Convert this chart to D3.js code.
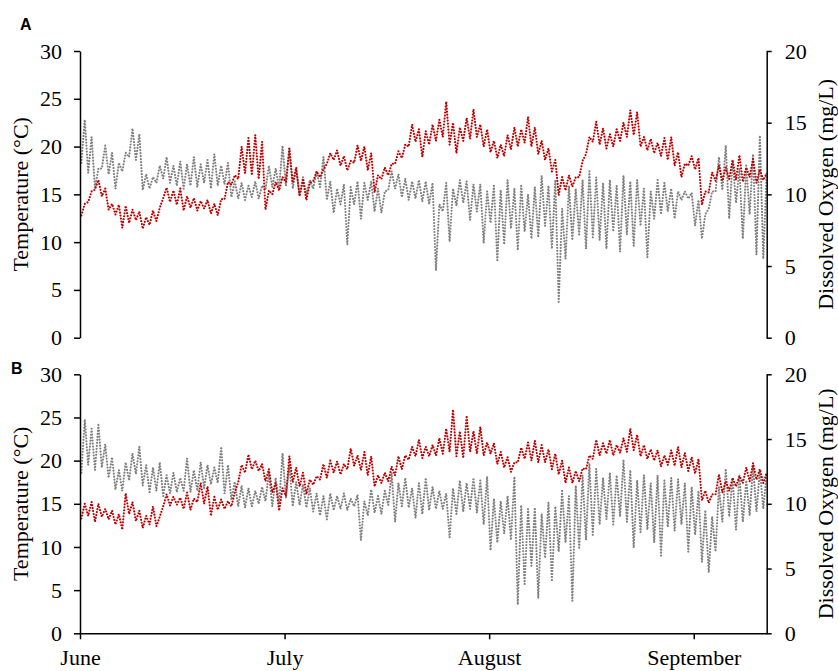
<!DOCTYPE html>
<html>
<head>
<meta charset="utf-8">
<script src="https://cdn.jsdelivr.net/npm/d3@7"></script>
<style>
  html, body { margin: 0; padding: 0; background: #fff; }
  svg { display: block; }
</style>
</head>
<body>
<svg id="chart" width="838" height="671"></svg>
<script>
// ---- Data (two readings per day: night low, afternoon high) ----
const months = ["June", "July", "August", "September"];
const monthDays = [0, 30, 60, 90];
const tempTicks = [0, 5, 10, 15, 20, 25, 30];
const doTicks = [0, 5, 10, 15, 20];
const panelLabels = ["A", "B"];

// Panel A: water temperature (°C)
const tempA = [
12.8,14.0, 14.2,15.3, 15.5,16.5, 14.8,15.6, 13.4,14.0, 12.9,13.9, 11.5,13.8, 12.0,13.4, 12.3,13.2, 11.4,12.6,
11.8,13.3, 12.2,13.6, 14.6,15.7, 14.2,15.4, 13.9,15.6, 13.3,14.8, 13.6,14.6, 13.3,14.3, 13.5,14.4, 13.0,14.0,
12.8,14.5, 14.5,16.3, 16.0,17.0, 16.6,20.0, 17.2,20.9, 17.0,21.2, 16.6,20.5, 13.4,15.4, 15.0,16.3, 15.4,16.8,
16.3,19.8, 16.2,17.8, 14.8,16.5, 14.4,16.2, 16.4,17.4, 16.8,17.6, 18.2,19.3, 18.6,19.6, 18.0,19.0, 17.5,18.5,
18.3,20.1, 18.5,20.0, 17.5,19.3, 15.2,17.0, 16.6,17.8, 17.0,18.2, 18.2,19.5, 18.8,20.2, 20.0,22.3, 20.5,21.8,
18.9,21.6, 20.2,22.3, 20.6,22.8, 21.0,24.7, 20.2,22.5, 19.3,22.0, 20.6,23.0, 20.8,23.9, 21.0,22.3, 20.0,21.8,
19.4,20.6, 18.8,20.2, 19.0,21.2, 19.7,22.0, 20.0,21.8, 20.4,23.1, 20.0,22.0, 19.2,20.6, 18.6,19.8, 17.4,18.6,
14.9,16.8, 15.4,17.0, 15.8,16.8, 16.8,18.5, 19.2,21.0, 20.5,22.6, 20.2,21.9, 19.8,21.3, 20.0,21.8, 20.6,22.5,
21.0,23.8, 21.2,23.6, 20.0,21.0, 19.6,20.8, 19.3,20.4, 19.0,20.9, 18.6,21.0, 18.0,19.4, 16.8,18.2, 18.0,19.0,
17.6,18.8, 13.9,15.3, 15.2,17.3, 16.4,18.0, 16.4,17.8, 16.6,18.6, 16.5,19.1, 16.3,17.8, 16.8,18.7, 16.2,17.6,
16.5,17.2
];

// Panel A: dissolved oxygen (mg/L)
const doA = [
12.2,15.2, 11.5,14.0, 10.4,11.8, 11.8,13.4, 11.4,12.9, 10.4,12.2, 11.6,12.9, 12.6,14.6, 12.4,14.2, 10.3,11.4,
10.4,11.2, 10.8,12.0, 11.1,12.6, 10.8,12.0, 10.6,12.3, 10.4,12.1, 10.6,12.6, 10.5,12.1, 10.8,12.4, 10.4,12.8,
10.6,12.0, 10.7,12.2, 9.8,10.9, 9.7,10.8, 9.6,10.6, 9.8,10.9, 9.7,10.6, 10.3,12.0, 10.5,11.8, 10.4,13.4,
10.6,13.2, 10.4,11.8, 9.9,11.2, 10.0,11.0, 10.4,11.6, 10.5,12.6, 9.6,10.9, 8.7,10.4, 9.3,10.7, 6.5,10.5,
9.3,10.9, 8.3,10.8, 9.6,10.9, 8.8,10.4, 8.7,10.2, 10.3,11.6, 10.4,11.4, 9.8,11.1, 9.6,10.9, 9.7,11.0,
9.5,10.9, 9.3,10.8, 4.7,9.3, 8.8,10.8, 6.7,10.4, 9.2,11.0, 9.4,10.9, 8.2,10.7, 8.8,10.7, 6.6,10.2,
8.0,10.6, 5.4,10.3, 6.5,11.0, 7.6,10.4, 6.1,10.6, 7.4,10.0, 6.9,10.5, 7.0,11.3, 7.8,10.6, 6.2,11.0,
2.5,9.0, 5.5,10.6, 6.8,10.4, 7.2,11.0, 6.2,11.6, 7.0,11.2, 6.8,10.8, 6.2,11.0, 7.4,10.6, 6.0,11.3,
7.2,10.9, 6.4,11.0, 7.8,10.4, 5.6,10.2, 8.3,11.0, 8.6,10.8, 8.8,10.4, 8.3,10.2, 9.6,10.2, 9.7,10.1,
7.8,9.6, 6.9,8.6, 9.0,10.2, 10.2,12.6, 10.3,13.4, 8.3,12.4, 9.4,11.8, 6.9,12.0, 8.6,12.8, 5.8,14.1,
5.5,11.5
];

// Panel B: water temperature (°C)
const tempB = [
13.3,15.0, 13.6,15.2, 12.9,15.0, 13.5,14.4, 13.2,14.2, 12.6,13.8, 12.0,16.2, 13.8,15.2, 13.0,14.2, 12.2,13.6,
12.6,14.7, 12.4,13.5, 14.7,16.1, 14.8,15.8, 14.9,15.7, 14.4,16.3, 14.3,15.6, 15.2,17.4, 15.0,17.0, 13.6,15.8,
14.3,15.5, 14.4,15.3, 14.7,16.3, 17.5,19.5, 18.6,20.7, 19.0,20.0, 18.8,19.6, 17.6,19.0, 16.3,17.4, 14.2,16.8,
15.9,20.5, 17.5,19.2, 17.0,18.6, 16.1,17.8, 17.2,18.2, 17.8,19.6, 18.0,20.0, 18.6,19.9, 18.4,19.6, 19.0,21.4,
19.4,20.6, 18.9,21.0, 18.3,20.5, 17.0,18.3, 17.4,18.6, 17.6,19.3, 18.3,20.5, 19.0,20.6, 20.1,21.6, 20.5,22.4,
20.3,21.6, 20.5,21.8, 20.6,22.6, 20.8,23.7, 21.0,25.9, 20.5,23.4, 20.3,25.2, 21.0,23.4, 20.8,23.9, 20.6,22.1,
20.8,22.0, 19.6,21.0, 19.2,20.4, 18.7,19.8, 19.8,21.5, 20.2,22.1, 20.0,22.3, 19.8,21.8, 19.8,21.3, 19.0,20.8,
18.4,20.0, 17.4,19.2, 17.4,18.8, 17.6,19.1, 19.0,20.6, 20.2,22.4, 20.6,22.0, 20.8,22.4, 20.6,21.8, 20.9,22.6,
21.0,23.7, 21.2,23.0, 20.5,21.8, 20.2,21.3, 20.0,21.2, 19.3,20.6, 19.5,21.2, 19.4,21.6, 19.2,20.9, 18.8,20.4,
18.5,20.2, 15.4,16.5, 15.1,16.1, 16.1,18.4, 16.3,17.6, 16.5,18.0, 17.0,18.2, 17.4,19.2, 17.6,19.7, 17.8,19.0,
17.4,18.6
];

// Panel B: dissolved oxygen (mg/L)
const doB = [
12.4,16.5, 13.0,15.8, 12.6,16.1, 12.8,14.6, 12.0,13.6, 11.1,12.6, 11.0,13.2, 11.8,13.9, 12.3,14.4, 11.4,13.0,
10.9,12.8, 11.0,13.2, 10.6,12.2, 10.8,12.4, 10.9,12.0, 11.0,13.5, 10.9,12.6, 11.0,13.2, 11.2,13.0, 11.5,12.8,
11.6,14.4, 10.8,13.0, 10.3,11.7, 9.8,11.4, 9.7,11.2, 9.8,11.0, 10.0,11.3, 10.2,12.4, 9.8,12.0, 10.0,13.9,
10.4,13.0, 9.8,11.7, 9.9,11.5, 9.7,11.2, 9.4,10.8, 9.1,10.6, 8.8,10.8, 9.5,10.6, 9.6,10.8, 9.5,10.4,
9.8,10.7, 7.2,10.2, 9.1,11.1, 9.3,10.6, 9.2,11.0, 9.9,12.4, 8.6,11.6, 9.8,12.0, 9.7,11.2, 8.9,11.6,
9.2,12.0, 9.5,11.3, 9.6,11.0, 9.6,10.8, 7.4,11.2, 9.2,11.8, 9.4,11.6, 9.6,12.0, 9.3,11.8, 8.4,12.1,
6.4,10.4, 7.0,10.2, 7.7,10.6, 7.2,12.1, 2.2,9.9, 3.8,9.6, 5.2,9.7, 2.7,9.2, 5.8,10.1, 4.0,9.8,
6.3,11.0, 7.0,10.6, 2.5,11.4, 6.5,12.2, 7.2,13.1, 7.6,12.7, 8.4,12.0, 8.8,12.4, 8.4,12.2, 9.0,13.4,
8.6,12.6, 6.6,11.8, 7.8,12.2, 8.0,11.6, 7.0,12.2, 6.0,11.8, 8.2,12.0, 7.9,11.9, 8.4,11.6, 6.3,11.3,
7.6,11.0, 5.5,9.5, 4.7,9.0, 6.3,11.3, 8.6,12.7, 9.0,12.0, 8.0,12.2, 8.6,11.8, 9.1,12.9, 9.4,12.6,
9.6,12.4
];

// ---- Drawing ----
const svg = d3.select("#chart");
const left = 80, right = 766.7;
const serif = "'Liberation Serif', 'Times New Roman', serif";
const red = "#C00000", grey = "#808080";

const x = d3.scaleLinear().domain([0, 100.7]).range([left, right]);
const dayOf = i => i * 0.5 + 0.2;

const panels = [
  { top: 51, bottom: 337.7, temp: tempA, dox: doA, label: panelLabels[0], lx: 20, ly: 30, xAxis: false },
  { top: 374.3, bottom: 633.3, temp: tempB, dox: doB, label: panelLabels[1], lx: 11, ly: 374.3, xAxis: true }
];

panels.forEach(p => {
  const yT = d3.scaleLinear().domain([0, 30]).range([p.bottom, p.top]);
  const yD = d3.scaleLinear().domain([0, 20]).range([p.bottom, p.top]);
  const g = svg.append("g");

  const lineD = d3.line().x((d, i) => x(dayOf(i))).y(d => yD(d));
  const lineT = d3.line().x((d, i) => x(dayOf(i))).y(d => yT(d));

  g.append("path").datum(p.dox)
    .attr("d", lineD).attr("fill", "none").attr("stroke", grey)
    .attr("stroke-width", 2.2).attr("stroke-linecap", "round")
    .attr("stroke-dasharray", "0 3");
  g.append("path").datum(p.temp)
    .attr("d", lineT).attr("fill", "none").attr("stroke", red)
    .attr("stroke-width", 2.2).attr("stroke-linecap", "round")
    .attr("stroke-dasharray", "0 3");

  // Left axis
  const la = g.append("g").attr("transform", `translate(${left},0)`)
    .call(d3.axisLeft(yT).tickValues(tempTicks).tickSize(6).tickSizeOuter(0).tickPadding(12));
  // Right axis
  const ra = g.append("g").attr("transform", `translate(${right},0)`)
    .call(d3.axisRight(yD).tickValues(doTicks).tickSize(5).tickSizeOuter(0).tickPadding(13));
  [la, ra].forEach(a => {
    a.selectAll("text").style("font-family", serif).style("font-size", "22px").attr("fill", "#000");
    a.selectAll("line, path").attr("stroke", "#000").attr("stroke-width", 1.5);
  });

  if (p.xAxis) {
    const ba = g.append("g").attr("transform", `translate(0,${p.bottom})`)
      .call(d3.axisBottom(x).tickValues(monthDays).tickFormat((d, i) => months[i])
        .tickSize(6).tickSizeOuter(0).tickPadding(10));
    ba.selectAll("text").style("font-family", serif).style("font-size", "22px").attr("fill", "#000");
    ba.selectAll("line, path").attr("stroke", "#000").attr("stroke-width", 1.5);
  }

  const cy = (p.top + p.bottom) / 2;
  g.append("text").attr("transform", `translate(28,${cy}) rotate(-90)`)
    .attr("text-anchor", "middle").style("font-family", serif).style("font-size", "22px")
    .text("Temperature (°C)");
  g.append("text").attr("transform", `translate(833,${cy}) rotate(-90)`)
    .attr("text-anchor", "middle").style("font-family", serif).style("font-size", "22px")
    .text("Dissolved Oxygen (mg/L)");
  g.append("text").attr("x", p.lx).attr("y", p.ly)
    .style("font-family", "'Liberation Sans', Arial, sans-serif").style("font-size", "16px")
    .style("font-weight", "bold").text(p.label);
});
</script>
</body>
</html>
